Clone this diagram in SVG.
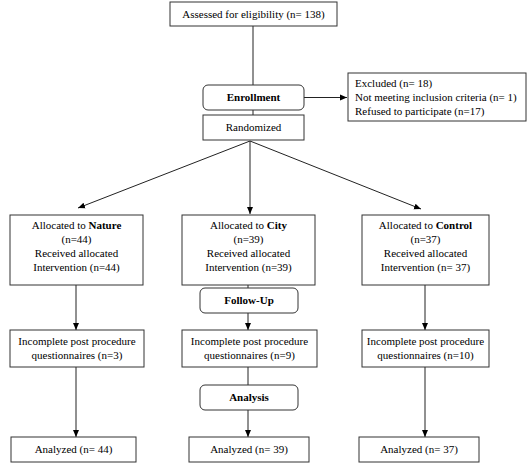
<svg xmlns="http://www.w3.org/2000/svg" width="532" height="464" viewBox="0 0 532 464">
<style>
.box{fill:#fff;stroke:#333;stroke-width:1}
text{font-family:'Liberation Serif','Times New Roman','DejaVu Serif',serif;font-size:11px;fill:#000;text-anchor:middle}
.l{text-anchor:start}
.b{font-weight:bold}
.c{stroke:#222;stroke-width:1;fill:none}
</style>
<defs>
<marker id="ah" markerWidth="8" markerHeight="8" refX="7" refY="4" orient="auto" markerUnits="userSpaceOnUse">
<path d="M0,1 L7,4 L0,7 Z" fill="#000"/>
</marker>
</defs>
<rect width="532" height="464" fill="#fff"/>
<g id="connectors">
<line class="c" x1="253" y1="26" x2="253" y2="85"/>
<line class="c" x1="304" y1="97.5" x2="347" y2="97.5" marker-end="url(#ah)"/>
<line class="c" x1="253" y1="110" x2="253" y2="115"/>
<line class="c" x1="250" y1="141" x2="78" y2="208" marker-end="url(#ah)"/>
<line class="c" x1="250" y1="141" x2="250" y2="214" marker-end="url(#ah)"/>
<line class="c" x1="250" y1="141" x2="421" y2="209" marker-end="url(#ah)"/>
<line class="c" x1="76" y1="285" x2="76" y2="330" marker-end="url(#ah)"/>
<line class="c" x1="248" y1="285" x2="248" y2="288"/>
<line class="c" x1="248" y1="313" x2="248" y2="330" marker-end="url(#ah)"/>
<line class="c" x1="425" y1="285" x2="425" y2="330" marker-end="url(#ah)"/>
<line class="c" x1="76" y1="367" x2="76" y2="437" marker-end="url(#ah)"/>
<line class="c" x1="248" y1="367" x2="248" y2="385"/>
<line class="c" x1="248" y1="410" x2="248" y2="437" marker-end="url(#ah)"/>
<line class="c" x1="425" y1="367" x2="425" y2="437" marker-end="url(#ah)"/>
</g>
<g id="assessed"><rect class="box" x="170" y="2" width="167" height="24"/><text x="253.5" y="18">Assessed for eligibility (n= 138)</text></g>
<g id="enrollment"><rect class="box" x="203" y="85" width="101" height="25" rx="5"/><text class="b" x="253.5" y="101">Enrollment</text></g>
<g id="excluded"><rect class="box" x="348" y="73" width="178" height="48"/>
<text class="l" x="355" y="87">Excluded (n= 18)</text>
<text class="l" x="355" y="101">Not meeting inclusion criteria (n= 1)</text>
<text class="l" x="355" y="115">Refused to participate (n=17)</text></g>
<g id="randomized"><rect class="box" x="203" y="115" width="101" height="25"/><text x="253.5" y="131">Randomized</text></g>
<g id="nature"><rect class="box" x="10" y="215" width="133" height="70"/>
<text x="76.5" y="229">Allocated to <tspan class="b">Nature</tspan></text>
<text x="76.5" y="243">(n=44)</text>
<text x="76.5" y="257">Received allocated</text>
<text x="76.5" y="271">Intervention (n=44)</text></g>
<g id="city"><rect class="box" x="182" y="215" width="133" height="70"/>
<text x="248.5" y="229">Allocated to <tspan class="b">City</tspan></text>
<text x="248.5" y="243">(n=39)</text>
<text x="248.5" y="257">Received allocated</text>
<text x="248.5" y="271">Intervention (n=39)</text></g>
<g id="control"><rect class="box" x="362" y="215" width="127" height="70"/>
<text x="425.5" y="229">Allocated to <tspan class="b">Control</tspan></text>
<text x="425.5" y="243">(n=37)</text>
<text x="425.5" y="257">Received allocated</text>
<text x="425.5" y="271">Intervention (n= 37)</text></g>
<g id="followup"><rect class="box" x="200" y="288" width="98" height="25" rx="5"/><text class="b" x="249" y="304">Follow-Up</text></g>
<g id="incomplete-nature"><rect class="box" x="10" y="330" width="134" height="37"/>
<text x="77" y="345">Incomplete post procedure</text>
<text x="77" y="359">questionnaires (n=3)</text></g>
<g id="incomplete-city"><rect class="box" x="182" y="330" width="135" height="37"/>
<text x="249.5" y="345">Incomplete post procedure</text>
<text x="249.5" y="359">questionnaires (n=9)</text></g>
<g id="incomplete-control"><rect class="box" x="362" y="330" width="127" height="37"/>
<text x="425.5" y="345">Incomplete post procedure</text>
<text x="425.5" y="359">questionnaires (n=10)</text></g>
<g id="analysis"><rect class="box" x="200" y="385" width="98" height="25" rx="5"/><text class="b" x="249" y="401">Analysis</text></g>
<g id="analyzed-nature"><rect class="box" x="11" y="437" width="125" height="25"/><text x="73.5" y="453">Analyzed (n= 44)</text></g>
<g id="analyzed-city"><rect class="box" x="189" y="437" width="120" height="25"/><text x="249" y="453">Analyzed (n= 39)</text></g>
<g id="analyzed-control"><rect class="box" x="359" y="437" width="120" height="25"/><text x="419" y="453">Analyzed (n= 37)</text></g>
</svg>
